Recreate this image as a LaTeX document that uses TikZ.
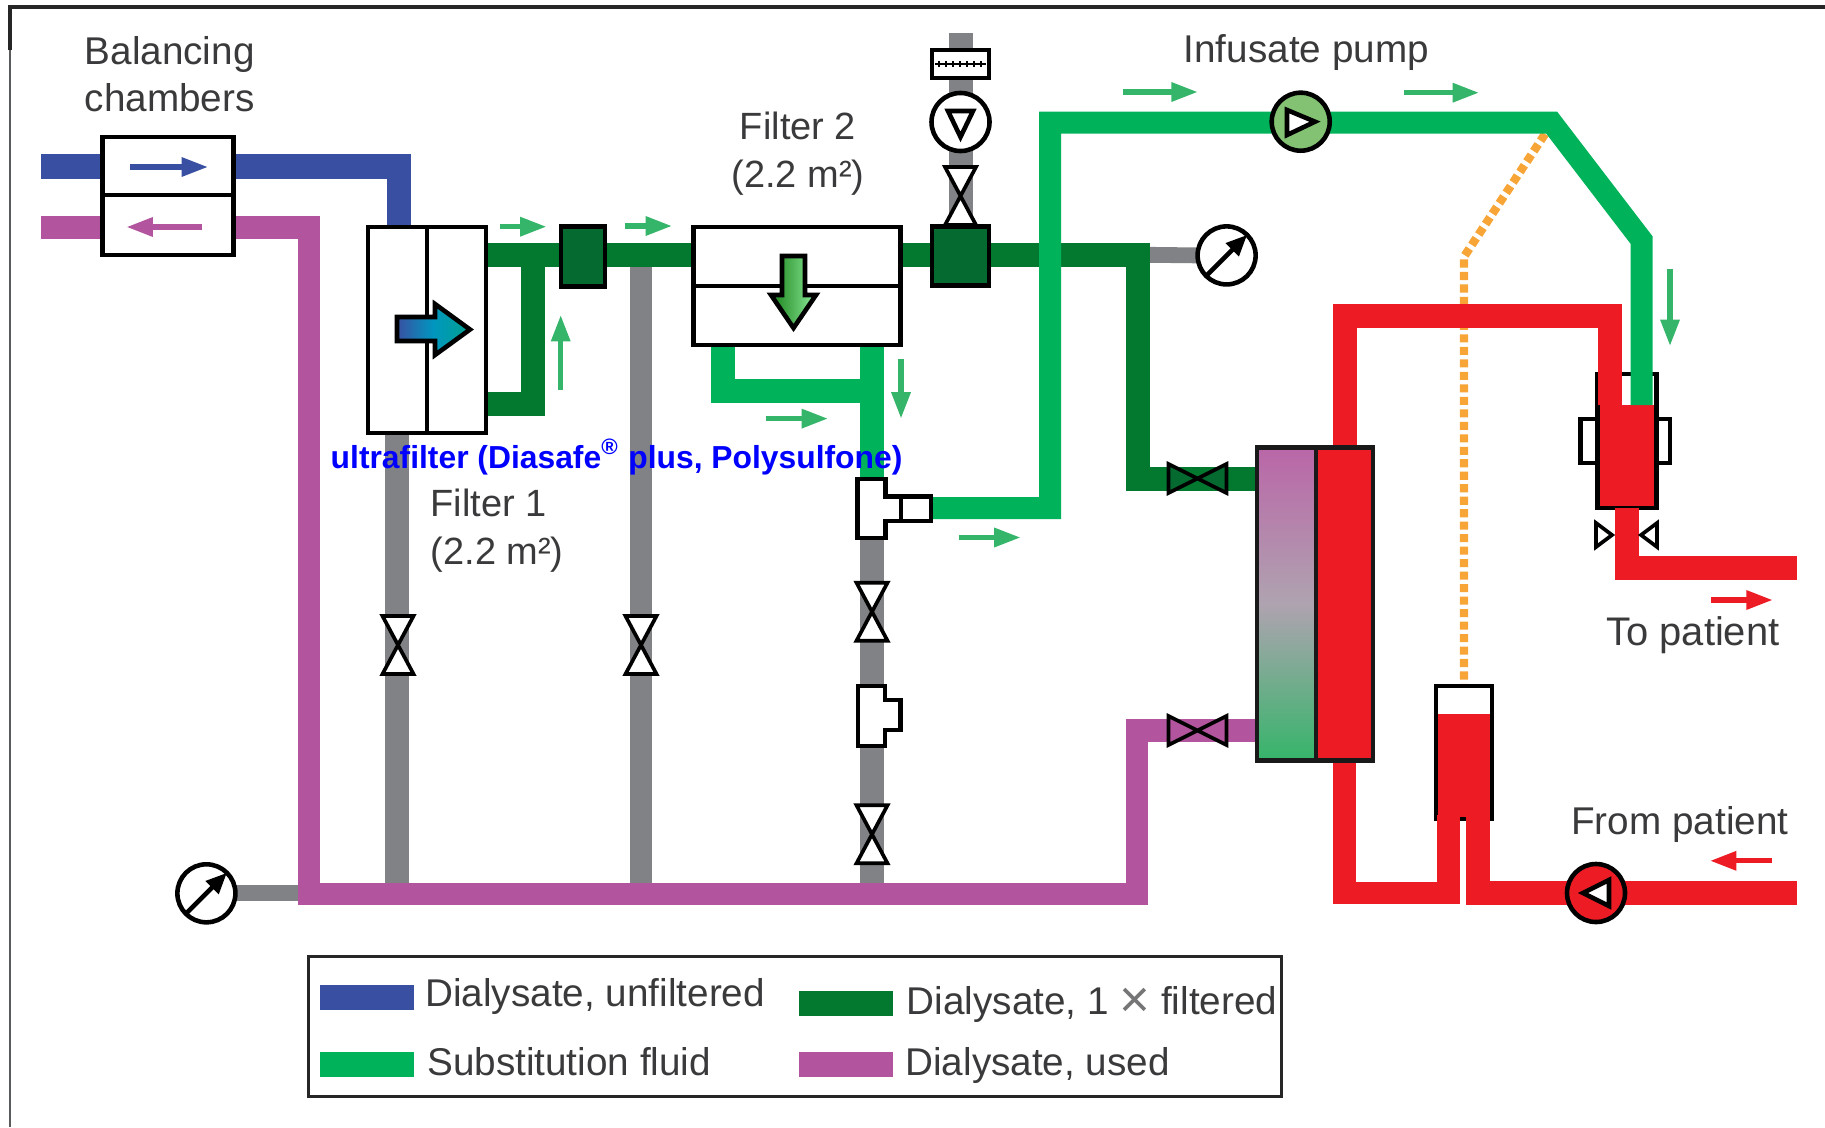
\documentclass[tikz,border=0pt]{standalone}
\usepackage{fontspec}
\setmainfont{Liberation Sans}
\usetikzlibrary{arrows.meta,backgrounds}
\definecolor{unfilt}{HTML}{3950A2}
\definecolor{used}{HTML}{B2559E}
\definecolor{once}{HTML}{03792F}
\definecolor{oncedk}{HTML}{056A30}
\definecolor{subst}{HTML}{00B259}
\definecolor{flowgr}{HTML}{35B56A}
\definecolor{pumpgr}{HTML}{82C272}
\definecolor{dialmid}{HTML}{AFA3B0}
\definecolor{hose}{HTML}{808285}
\definecolor{blood}{HTML}{ED1C24}
\definecolor{sense}{HTML}{F7A536}
\definecolor{txt}{HTML}{3A3A3C}
\definecolor{passmid}{HTML}{0097BF}
\definecolor{passend}{HTML}{00A08F}
\begin{document}
\begin{tikzpicture}[x=0.01cm,y=-0.01cm,>={Triangle[length=7.5pt,width=5.2pt]},
    line join=miter,
    pipe/.style={line width=24*0.2845pt,line cap=butt},
    part/.style={draw=black,line width=1.3pt},
    thinpart/.style={draw=black,line width=1.05pt},
    box/.style={part,fill=white,inner sep=0,outer sep=0},
    disc/.style={box,circle,minimum size=.58cm},
    flow/.style={->,line width=1.5pt,line cap=butt},
    lbl/.style={font=\fontsize{11}{13.5}\selectfont,text=txt,inner sep=0,anchor=base west},
    swatch/.style={inner sep=0,outer sep=0,minimum width=.94cm,minimum height=.25cm}]
    \useasboundingbox (0,0) rectangle (1825,1127);
    % frame
    \draw[hose!70!black,line width=.6pt] (10,50)--(10,1127);
    \draw[black!85,line width=.95pt] (10,50)--(10,7)--(1825,7);
    % chambers and filters
    \node[box,minimum width=1.31cm,minimum height=.58cm] (chamberup) at (168,166) {};
    \node[box,minimum width=1.31cm,minimum height=.60cm] (chamberlow) at (168,225) {};
    \node[box,minimum width=1.18cm,minimum height=2.06cm] (filterone) at (427,330) {};
    \draw[part] (filterone.north)--(filterone.south);
    \draw[part,left color=unfilt,right color=passend,middle color=passmid]
        (397,317)--(435,317)--(435,304)--(470,329.5)--(435,355)--(435,341)--(397,341)--cycle;
    \node[box,fill=oncedk,minimum width=.44cm,minimum height=.60cm] (sqone) at (583,256.5) {};
    \node[box,minimum width=2.07cm,minimum height=1.18cm] (filtertwo) at (797,286) {};
    \draw[part] (filtertwo.west)--(filtertwo.east);
    \draw[part,left color=green!45!black!90,right color=flowgr!50!green!50!white]
        (782,256)--(805,256)--(805,295)--(816,295)--(793.5,328)--(771,295)--(782,295)--cycle;
    \node[box,fill=oncedk,minimum width=.57cm,minimum height=.59cm] (sqtwo) at (960.5,256) {};
    \node[box,minimum width=.57cm,minimum height=.28cm] (flowbox) at (960.5,64) {};
    \draw[line width=.3pt] (935,64)--(986,64);
    \foreach \x in {939,946,953,960,967,974,981}{
        \draw[line width=.4pt] (\x,61)--(\x,67);
    }
    % pumps and gauges
    \node[disc] (pumpsub) at (960.5,122) {};
    \draw[part] (948,111)--(973,111)--(960.5,137)--cycle;
    \node[disc,fill=pumpgr] (pumpinf) at (1300.7,121.7) {};
    \draw[part,fill=white] (1287,110)--(1287,135)--(1315,121.7)--cycle;
    \node[disc,fill=blood] (pumpblood) at (1596,893) {};
    \draw[part,fill=white] (1609,880)--(1609,906)--(1583,893)--cycle;
    \node[disc] (gaugeR) at (1226.6,255.4) {};
    \node[disc] (gaugeL) at (206.4,893.3) {};
    \foreach \n in {gaugeR,gaugeL}{
        \draw[part,-{Triangle[length=6pt,width=5pt]}] (\n.225)--(\n.45);
    }
    % dialyser
    \node[box,draw=black!90,top color=used!90!white,bottom color=flowgr,middle color=dialmid,
        minimum width=.59cm,minimum height=3.13cm] (dialleft) at (1286.5,604) {};
    \node[box,draw=black!90,fill=blood,minimum width=.57cm,minimum height=3.13cm] (dialright) at (1344.5,604) {};
    % tees
    \draw[part,fill=white] (857.7,478.8)--(885.4,478.8)--(885.4,496.6)--(931,496.6)--(931,521)
        --(885.4,521)--(885.4,538)--(857.7,538)--cycle;
    \draw[part] (901,496.6)--(901,521);
    \draw[part,fill=white] (858,686)--(885,686)--(885,700)--(900.5,700)--(900.5,730)--(885,730)
        --(885,746)--(858,746)--cycle;
    % points on the lines
    \coordinate (bluein) at (41,166.5);
    \coordinate (blueturn) at (399,227);
    \coordinate (usedout) at (41,227.5);
    \coordinate (usedtop) at (309,227.5);
    \coordinate (usedbot) at (309,894);
    \coordinate (usedright) at (1137,894);
    \coordinate (valveused) at (1197,730.5);
    \coordinate (valveonce) at (1197.5,478.5);
    \coordinate (filtA) at (486,254.7);
    \coordinate (filtB) at (486,404.3);
    \coordinate (darkjoin) at (532.5,254.7);
    \coordinate (darkturn) at (1138,254.7);
    \coordinate (hoseA) at (396.5,433);
    \coordinate (hoseB) at (641,254.7);
    \coordinate (hoseC) at (872,538);
    \coordinate (hoseD) at (960.5,33);
    \coordinate (substA) at (723,346);
    \coordinate (substB) at (872,346);
    \coordinate (substjoin) at (872,391);
    \coordinate (teetop) at (872,480);
    \coordinate (teeout) at (931,508);
    \coordinate (substup) at (1050,122.7);
    \coordinate (substdiag) at (1551.7,122.7);
    \coordinate (substlow) at (1641.5,240);
    \coordinate (substend) at (1641.5,405);
    \coordinate (redtop) at (1610,315.5);
    \coordinate (redend) at (1610,405);
    \coordinate (trapA) at (1448.6,815);
    \coordinate (trapB) at (1478,815);
    \coordinate (frompatient) at (1797,893);
    \coordinate (topatient) at (1797,568);
    \coordinate (senseturn) at (1464,256.7);
    \coordinate (sensetop) at (1545,134);
    % lines, under the parts
    \begin{scope}[on background layer]
        \draw[pipe,hose] (hoseA)--(hoseA|-usedbot);
        \draw[pipe,hose,line width=6.2pt] (hoseB)--(hoseB|-usedbot);
        \draw[pipe,hose] (hoseC)--(hoseC|-usedbot);
        \draw[pipe,hose] (hoseD)--(sqtwo.north);
        \draw[pipe,hose,line width=4.5pt] (darkturn)--(gaugeR.west);
        \draw[pipe,hose,line width=4.5pt] (gaugeL.east)--(gaugeL.east-|usedbot);
        \draw[sense,line width=2.4pt,dash pattern=on 2.3pt off 1.25pt] (sensetop)--(senseturn)--(senseturn|-1464,686);
        \draw[pipe,once] (filtA)--(darkturn)|-(dialleft.west|-valveonce);
        \draw[pipe,once] (filtB)-|(darkjoin);
        \draw[pipe,unfilt] (bluein)--(chamberup.east|-bluein)-|(blueturn);
        \draw[pipe,used,line width=22.5*0.2845pt] (usedout)--(usedtop)--(usedbot)--(usedright)|-(dialleft.west|-valveused);
        \draw[pipe,subst] (substA)|-(substjoin);
        \draw[pipe,subst] (substB)--(teetop);
        % venous chamber
        \node[box,minimum width=.165cm,minimum height=.44cm] (tableft) at (1589,441) {};
        \node[box,minimum width=.14cm,minimum height=.44cm] (tabright) at (1663,441) {};
        \node[box,minimum width=.585cm,minimum height=1.34cm] (chamber) at (1627,441) {};
        \fill[blood] (1599.5,405) rectangle (1654,506);
        \node[box,minimum width=.56cm,minimum height=1.33cm] (trap) at (1464,752.5) {};
        \fill[blood] (1438,713.5) rectangle (1490,817);
        \draw[pipe,subst,line width=22*0.2845pt] (teeout)-|(substup)--(substdiag)--(substlow)--(substend);
        \draw[pipe,blood] (dialright.north)|-(redtop)--(redend);
        \draw[pipe,blood] (chamber.south)|-(topatient);
        \draw[pipe,blood,line width=22.5*0.2845pt] (dialright.south)--(dialright.south|-pumpblood)-|(trapA);
        \draw[pipe,blood] (trapB)--(trapB|-pumpblood)--(frompatient);
    \end{scope}
    % valves and clamps
    \foreach \x/\y in {398/645,641/645,872/611.7,872/834.3,960.5/196}{
        \draw[thinpart,fill=white] (\x-15.5,\y-29)--(\x+15.5,\y-29)--(\x-15.5,\y+29)--(\x+15.5,\y+29)--cycle;
    }
    \foreach \y/\c in {478.5/oncedk,730.5/used}{
        \draw[thinpart,fill=\c] (1197.5-29,\y-14.5)--(1197.5-29,\y+14.5)--(1197.5+29,\y-14.5)--(1197.5+29,\y+14.5)--cycle;
    }
    \draw[thinpart,fill=white] (1596,523)--(1596,547)--(1612,535)--cycle;
    \draw[thinpart,fill=white] (1657,523)--(1657,547)--(1641,535)--cycle;
    % flow directions
    \draw[flow,unfilt] (130,167)--(208,167);
    \draw[flow,used] (202,227)--(126.5,227);
    \foreach \xa/\ya/\xb/\yb in {500/226.7/546.5/226.7,625/226/672/226,560.7/390/560.7/315,
        766/418.6/828/418.6,901/359/901/418.6,959/537.5/1020.6/537.5,1122.6/92/1197.8/92,
        1404.3/92.7/1479/92.7,1670/269.3/1670/346}{
        \draw[flow,flowgr] (\xa,\ya)--(\xb,\yb);
    }
    \draw[flow,blood] (1711,600)--(1772.7,600);
    \draw[flow,blood] (1772,860.8)--(1710,860.8);
    % legend
    \node[draw=black!85,line width=.85pt,inner sep=0,minimum width=9.72cm,minimum height=1.40cm] (legend) at (795.2,1026.3) {};
    \node[swatch,fill=unfilt] (swunfilt) at (367.4,997.5) {};
    \node[swatch,fill=subst] (swsubst) at (367.4,1064) {};
    \node[swatch,fill=once] (swonce) at (845.6,1003) {};
    \node[swatch,fill=used] (swused) at (845.6,1064) {};
    \node[lbl] (txunfilt) at (424.6,1006.7) {Dialysate, unfiltered};
    \node[lbl] (txsubst) at (426.5,1075.7) {Substitution fluid};
    \node[lbl] (txonce) at (906,1014) {Dialysate, 1 \raisebox{-1pt}{\fontsize{15}{15}\selectfont\color{txt!70}×} filtered};
    \node[lbl] (txused) at (904.7,1075.7) {Dialysate, used};
    % labels
    \node[lbl,align=left] (txchambers) at (84,111.7) {Balancing\\chambers};
    \node[lbl,align=center,anchor=base,font=\fontsize{10.8}{13.5}\selectfont] (txfiltertwo) at (798,187) {Filter 2\\(2.2 m²)};
    \node[lbl,align=left,font=\fontsize{10.8}{13.5}\selectfont] (txfilterone) at (430,564.3) {Filter 1\\(2.2 m²)};
    \node[lbl] (txpump) at (1183,62) {Infusate pump};
    \node[lbl,font=\fontsize{11.35}{13.5}\selectfont] (txto) at (1605.7,645) {To patient};
    \node[lbl] (txfrom) at (1570.6,834.7) {From patient};
    \node[lbl,text=blue,font=\bfseries\fontsize{9.05}{11}\selectfont] (txultra) at (330,468.3)
        {ultrafilter (Diasafe\textsuperscript{®} plus, Polysulfone)};
\end{tikzpicture}
\end{document}
